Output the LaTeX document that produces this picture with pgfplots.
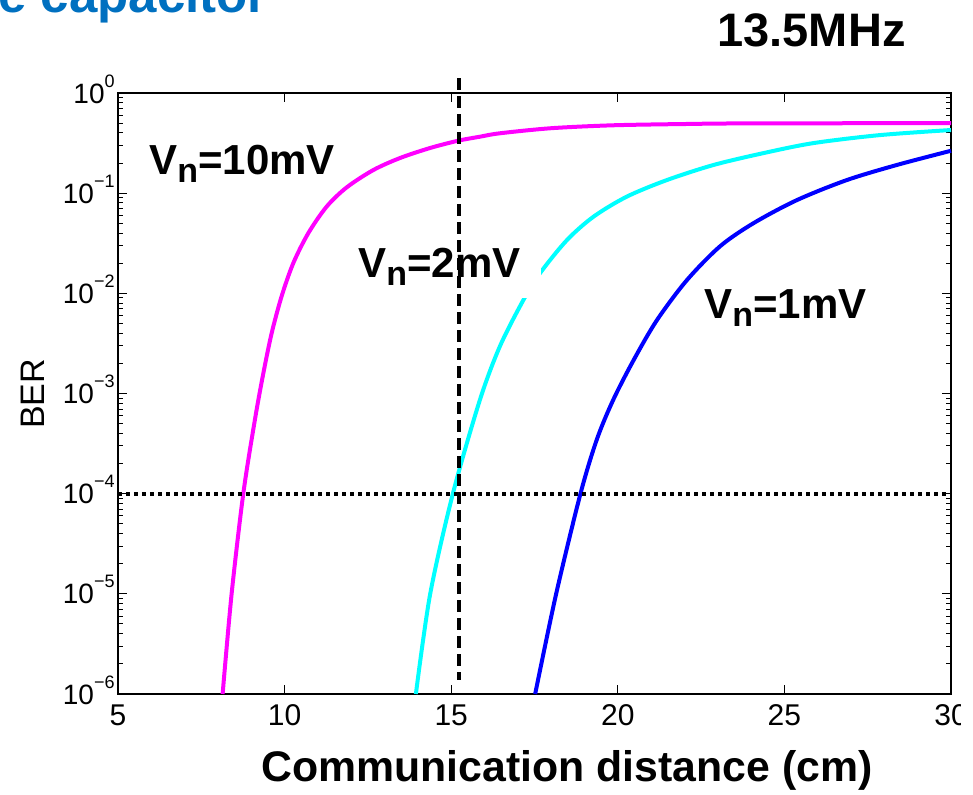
\documentclass[border=0pt]{standalone}
\usepackage{fontspec}
\setmainfont{Liberation Sans}
\usepackage{pgfplots}
\pgfplotsset{compat=1.18}
\definecolor{titleblue}{RGB}{0,112,192}
\definecolor{mmag}{RGB}{255,0,255}
\definecolor{mcyan}{RGB}{0,255,255}
\definecolor{mblue}{RGB}{0,0,255}
\newcommand\tl[1]{10\raisebox{8pt}{\fontsize{9}{9}\selectfont #1}}
\newcommand\Vn{V\raisebox{-4pt}{\fontsize{17}{17}\selectfont n}}
\begin{document}
\begin{tikzpicture}
\path[use as bounding box] (-59pt,-50.5pt) rectangle (427.5pt,347pt);
\clip (-59pt,-50.5pt) rectangle (421pt,347pt);
\begin{axis}[
  at={(0,0)}, anchor=south west,
  scale only axis, width=416.5pt, height=300.5pt,
  xmin=5, xmax=30, ymode=log, ymin=1e-6, ymax=1,
  xtick={5,10,15,20,25,30}, xticklabels={5,10,15,20,25,30},
  ytick={1e-6,1e-5,1e-4,1e-3,1e-2,1e-1,1},
  yticklabels={\tl{−6},\tl{−5},\tl{−4},\tl{−3},\tl{−2},\tl{−1},\tl{0}},
  axis line style={line width=1pt},
  major tick length=4.5pt, minor tick length=2.5pt,
  every tick/.style={black, line width=0.5pt},
  xticklabel style={font=\fontsize{15}{15}\selectfont, inner sep=0pt, yshift=-5pt},
  yticklabel style={font=\fontsize{14}{14}\selectfont, inner sep=0pt, xshift=-1.5pt, yshift=2pt},
  clip=false,
]
\addplot[mmag, line width=2pt, smooth] coordinates {
(8.14,1e-6) (8.41,1e-5) (8.76,1e-4) (9.11,5.5e-4) (9.36,1.58e-3) (9.61,3.98e-3)
(9.91,9.33e-3) (10.26,2.0e-2) (10.71,3.98e-2) (11.26,7.33e-2) (11.86,0.114)
(12.66,0.170) (13.46,0.224) (14.36,0.282) (15.21,0.334) (15.86,0.366) (16.46,0.396)
(18,0.445) (19.86,0.476) (22,0.49) (23.87,0.497) (30,0.5)};
\addplot[mcyan, line width=2pt, smooth] coordinates {
(13.94,1e-6) (14.37,1e-5) (15.05,1e-4) (15.86,8.6e-4) (16.46,2.95e-3) (17.16,8.5e-3)
(17.66,1.58e-2) (18.47,3.39e-2) (19.27,5.82e-2) (20.27,9.23e-2) (21.47,0.135)
(22.87,0.191) (24.37,0.251) (25.87,0.316) (27.87,0.380) (30,0.427)};
\addplot[mblue, line width=2pt, smooth] coordinates {
(17.52,1e-6) (18.15,1e-5) (18.88,1e-4) (19.37,3.47e-4) (19.86,8.6e-4) (20.47,2.14e-3)
(21.17,5.37e-3) (22.07,1.35e-2) (23.07,2.95e-2) (24.07,5.01e-2) (25.37,8.51e-2)
(26.87,0.135) (28.37,0.191) (30,0.265)};
\addplot[black, line width=2pt, dash pattern=on 2pt off 2pt] coordinates {(5,1e-4) (30,1e-4)};
\fill[white] (rel axis cs:0.2785,0.6589) rectangle (rel axis cs:0.5078,0.7554);
\node[anchor=base west, inner sep=0pt, font=\bfseries\fontsize{21}{21}\selectfont] at (rel axis cs:0.0372,0.8636) {\Vn=10mV};
\node[anchor=base west, inner sep=0pt, font=\bfseries\fontsize{21}{21}\selectfont] at (rel axis cs:0.2881,0.6938) {\Vn=2mV};
\node[anchor=base west, inner sep=0pt, font=\bfseries\fontsize{21}{21}\selectfont] at (rel axis cs:0.7035,0.6240) {\Vn=1mV};
\addplot[black, line width=2pt, dash pattern=on 6pt off 3pt] coordinates {(15.22,1.41) (15.22,1.38e-6)};
\end{axis}
\node[anchor=base, inner sep=0pt, font=\bfseries\fontsize{21.4}{21.4}\selectfont] at (224.5pt,-44pt) {Communication distance (cm)};
\node[rotate=90, anchor=center, inner sep=0pt, font=\fontsize{17}{17}\selectfont] at (-42.75pt,150pt) {BER};
\node[anchor=base west, inner sep=0pt, text=titleblue, font=\bfseries\fontsize{25.5}{25.5}\selectfont] at (-60pt,340.5pt) {e capacitor};
\node[anchor=base, inner sep=0pt, font=\bfseries\fontsize{23.5}{23.5}\selectfont] at (346.75pt,323.5pt) {13.5MHz};
\end{tikzpicture}
\end{document}
